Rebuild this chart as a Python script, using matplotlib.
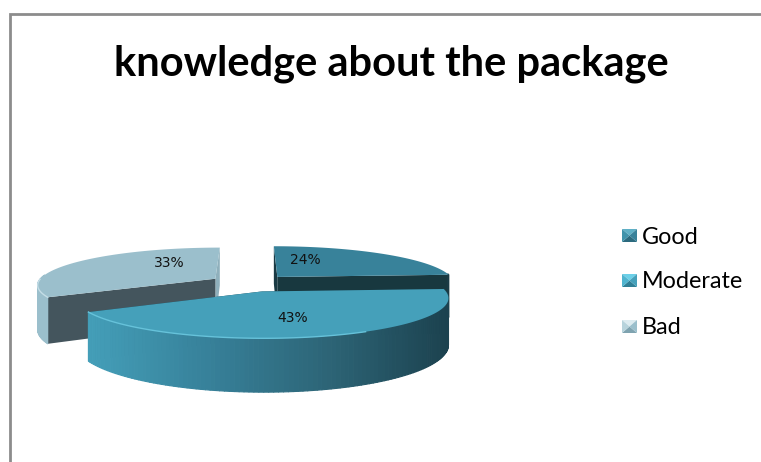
import numpy as np
import matplotlib
matplotlib.use("Agg")
import matplotlib.pyplot as plt
from matplotlib.collections import PolyCollection
from matplotlib.colors import LinearSegmentedColormap

# values
title = "knowledge about the package"
categories = ["Good", "Moderate", "Bad"]
shares = [24, 43, 33]
label_pos = [(305, 260), (293, 318), (169, 263)]
legend_y = [237, 282, 328]

top_colors = ["#38829a", "#45a0ba", "#9bbfcc"]
# colour of the cut at the start and at the end of each slice
cut_start = ["#1a3a44", "#1c424f", "#44555d"]
cut_end = ["#18383f", "#1c424f", "#8fb0bc"]
side_colors = ["#1a3a44", "#1c424f", "#9bbfcc"]
bevel_colors = [("#5fb0c6", "#2b6a7e", "#3f93ab", "#38829a"),
                ("#6cd0e8", "#2f7f96", "#4fb4cf", "#45a0ba"),
                ("#dcebf0", "#7fa3b0", "#b7d3dc", "#9bbfcc")]

# fake 3D scene, pixels
cx, cy, rx, ry = 250, 283, 178, 37
depth = 44
persp = 0.15
explode = 0.23
side_cmap = LinearSegmentedColormap.from_list("side", ["#449fb9", "#37819a", "#2d6577", "#1c424f"])


def project(u, v, z=0.0):
    s = 1 / (1 + persp * v)
    return cx + rx * u * s, cy - ry * v * s + depth * z * s


fig = plt.figure(figsize=(7.61, 4.62), dpi=100)
ax = fig.add_axes([0, 0, 1, 1])
ax.set_xlim(0, 761)
ax.set_ylim(462, 0)
ax.axis("off")

# frame of the chart area, only top and left are in the picture
ax.plot([10, 10, 761], [462, 14, 14], color="#8c8c8c", lw=2, solid_joinstyle="miter")

edges = np.cumsum([0] + shares) / sum(shares) * 2 * np.pi


def draw_slice(i):
    a0, a1 = edges[i], edges[i + 1]
    mid = (a0 + a1) / 2
    ox, oy = explode * np.sin(mid), explode * np.cos(mid)
    th = np.linspace(a0, a1, 120)
    u, v = ox + np.sin(th), oy + np.cos(th)
    xt, yt = project(u, v)
    xb, yb = project(u, v, 1)

    # the two cut faces go first, the wall and top cover what is hidden
    for a, col in ((a1, cut_end[i]), (a0, cut_start[i])):
        pts = [project(ox, oy), project(ox + np.sin(a), oy + np.cos(a)),
               project(ox + np.sin(a), oy + np.cos(a), 1), project(ox, oy, 1)]
        ax.fill(*zip(*pts), color=col, lw=0)

    # outer wall, front part only, one thin quad per step
    quads = []
    cols = []
    for j in range(len(th) - 1):
        if np.cos(th[j]) > 0.1:
            continue
        quads.append([(xt[j], yt[j]), (xt[j + 1], yt[j + 1]), (xb[j + 1], yb[j + 1]), (xb[j], yb[j])])
        if i == 1:
            cols.append(side_cmap((xt[j] - xt.min()) / (xt.max() - xt.min())))
        else:
            cols.append(side_colors[i])
    if quads:
        ax.add_collection(PolyCollection(quads, facecolors=cols, edgecolors=cols, linewidths=0.8))

    # top face
    px, py = project(np.r_[ox, u], np.r_[oy, v])
    ax.fill(px, py, color=top_colors[i], lw=0)

    # light rim on the front edge
    front = np.cos(th) < 0
    if i == 1:
        ax.plot(xt[front][-70:], yt[front][-70:], color="#66c2da", lw=1)
    if i == 2:
        ax.plot(xt[front], yt[front], color="#c4dde6", lw=1)


for i in [2, 0, 1]:
    draw_slice(i)

for pos, share in zip(label_pos, shares):
    ax.text(pos[0], pos[1], f"{share}%", ha="center", va="center", fontsize=10,
            family="DejaVu Sans", color="#111111")

ax.text(391, 64, title, ha="center", va="center", fontsize=30, fontweight="bold",
        family="Lato", color="black")

# legend with bevelled keys
for name, y, bev in zip(categories, legend_y, bevel_colors):
    x0, x1, y0, y1 = 622, 637, y - 8, y + 5
    mx, my = (x0 + x1) / 2, (y0 + y1) / 2
    ax.fill([x0, x1, mx], [y0, y0, my], color=bev[0], lw=0)
    ax.fill([x0, x1, mx], [y1, y1, my], color=bev[1], lw=0)
    ax.fill([x0, x0, mx], [y0, y1, my], color=bev[2], lw=0)
    ax.fill([x1, x1, mx], [y0, y1, my], color=bev[3], lw=0)
    ax.text(642, y, name, ha="left", va="center", fontsize=16.8, family="Lato", color="black")

plt.savefig("out.png", dpi=100)
